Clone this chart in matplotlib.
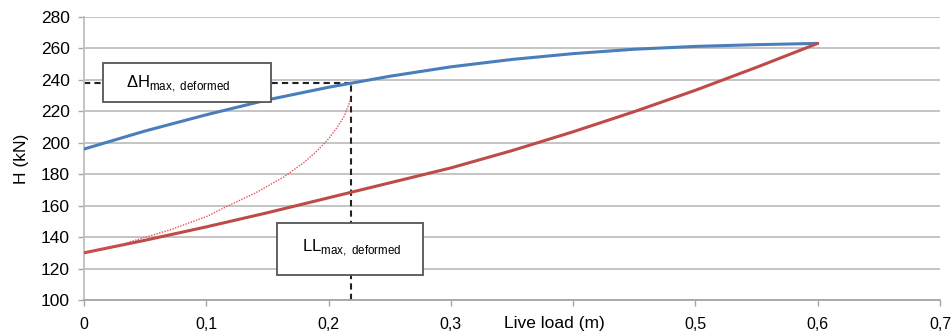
import matplotlib
matplotlib.use("Agg")
import matplotlib.pyplot as plt
from matplotlib.patches import Rectangle

plt.rcParams['font.family'] = ['Liberation Sans', 'DejaVu Sans']
plt.rcParams['mathtext.fontset'] = 'custom'
plt.rcParams['mathtext.rm'] = 'Liberation Sans'

# Data
x_blue = [0, 0.05, 0.1, 0.15, 0.2, 0.25, 0.3, 0.35, 0.4, 0.45, 0.5, 0.55, 0.6]
h_blue = [196, 207.5, 217.8, 227.3, 235.3, 242.3, 248.3, 253, 256.7, 259.5, 261.3, 262.4, 263.2]

x_red = [0, 0.05, 0.1, 0.15, 0.2, 0.25, 0.3, 0.35, 0.4, 0.45, 0.5, 0.55, 0.6]
h_red = [130, 138, 146.5, 155.5, 165, 174.5, 184, 195, 207, 219.8, 233.4, 248, 263.2]

x_dot = [0, 0.03, 0.046, 0.07, 0.1, 0.117, 0.14, 0.1635, 0.18, 0.1908, 0.2, 0.207, 0.2125, 0.2167, 0.218]
h_dot = [130, 135, 139, 144.5, 153, 159.6, 168, 178.3, 187.5, 195, 202.5, 209.8, 216.5, 224.6, 228]

ll_max = 0.218
h_max = 238

x_ticks = [0, 0.1, 0.2, 0.3, 0.4, 0.5, 0.6, 0.7]
x_ticklabels = ['0', '0,1', '0,2', '0,3', '', '0,5', '0,6', '0,7']
y_ticks = [100, 120, 140, 160, 180, 200, 220, 240, 260, 280]

fig = plt.figure(figsize=(9.51, 3.32), dpi=100)
ax = fig.add_axes([0.0883, 0.0964, 0.9001, 0.8524])

ax.set_xlim(0, 0.7)
ax.set_ylim(100, 280)
ax.set_yticks(y_ticks)
ax.set_xticks(x_ticks)
ax.set_xticklabels(x_ticklabels)
ax.tick_params(axis='both', labelsize=11.5, colors='#a6a6a6', labelcolor='black', length=4, width=1)
ax.tick_params(axis='x', pad=8)
ax.tick_params(axis='y', pad=6, labelsize=12.5)
ax.grid(axis='y', color='#bfbfbf', linewidth=1.3)
ax.set_axisbelow(True)
for s in ['top', 'right']:
    ax.spines[s].set_visible(False)
ax.spines['left'].set_color('#bfbfbf')
ax.spines['bottom'].set_color('#a6a6a6')
ax.spines['left'].set_linewidth(1.3)
ax.spines['bottom'].set_linewidth(1.3)

ax.plot(x_blue, h_blue, color='#4a7ebb', linewidth=2.2, zorder=3, solid_capstyle='round')
ax.plot(x_red, h_red, color='#be4b48', linewidth=2.2, zorder=3, solid_capstyle='round')
ax.plot(x_dot, h_dot, color='#e8505a', linewidth=1.0, linestyle=(0, (1, 1)), zorder=3)

ax.plot([0, ll_max], [h_max, h_max], color='#222222', linestyle=(0, (3, 2)), linewidth=1.5, zorder=2)
ax.plot([ll_max, ll_max], [100, h_max], color='#222222', linestyle=(0, (3, 2)), linewidth=1.5, zorder=2, clip_on=False)

ax.add_patch(Rectangle((0.0155, 226.2), 0.1372, 24.8, facecolor='white', edgecolor='#555555', linewidth=1.3, zorder=4))
ax.add_patch(Rectangle((0.1578, 115.6), 0.1193, 33.4, facecolor='white', edgecolor='#555555', linewidth=1.3, zorder=4))
ax.text(0.034, 237.8, r'$\Delta$H$_{\mathregular{max,\;deformed}}$', fontsize=12, va='center', ha='left', zorder=5)
ax.text(0.1785, 133, r'LL$_{\mathregular{max,\;deformed}}$', fontsize=12, va='center', ha='left', zorder=5)

ax.set_ylabel('H (kN)', fontsize=12.5, labelpad=9)
ax.text(0.385, -0.083, 'Live load (m)', transform=ax.get_xaxis_transform(), fontsize=12.5, ha='center', va='center')

fig.savefig('out.png', dpi=100)
